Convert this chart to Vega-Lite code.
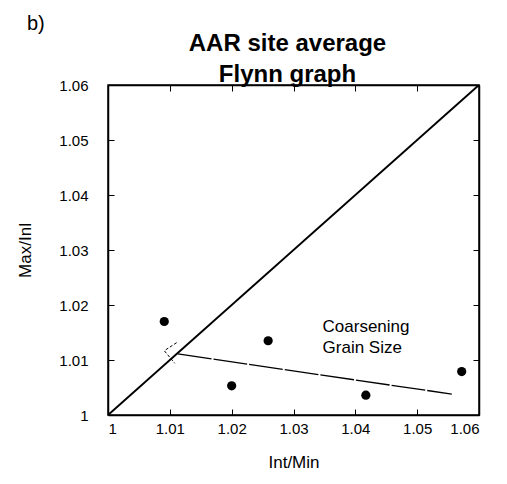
{
  "$schema": "https://vega.github.io/schema/vega-lite/v6.json",
  "width": 371,
  "height": 330,
  "autosize": {"type": "none"},
  "padding": {"left": 108, "top": 85, "right": 28, "bottom": 69},
  "background": "white",
  "config": {
    "font": "Liberation Sans",
    "view": {"stroke": "black", "strokeWidth": 1.5},
    "axis": {
      "grid": false,
      "domainColor": "black",
      "domainWidth": 1.5,
      "tickColor": "black",
      "tickWidth": 1,
      "labelColor": "black",
      "titleColor": "black",
      "labelFont": "Liberation Sans",
      "titleFont": "Liberation Sans",
      "labelFontSize": 15,
      "titleFontSize": 17,
      "titleFontWeight": "normal"
    }
  },
  "title": {
    "text": ["AAR site average", "Flynn graph"],
    "font": "Liberation Sans",
    "fontSize": 24,
    "fontWeight": "bold",
    "lineHeight": 31,
    "color": "black",
    "anchor": "middle",
    "offset": -73,
    "dx": -6
  },
  "datasets": {
    "sites": [
      {"intMin": 1.0091, "maxInl": 1.0170},
      {"intMin": 1.0200, "maxInl": 1.0053},
      {"intMin": 1.0259, "maxInl": 1.0135},
      {"intMin": 1.0417, "maxInl": 1.0036},
      {"intMin": 1.0572, "maxInl": 1.0079}
    ],
    "isotropy": [
      {"intMin": 1.0, "maxInl": 1.0},
      {"intMin": 1.06, "maxInl": 1.06}
    ],
    "trend": [
      {"intMin": 1.0113, "maxInl": 1.0111},
      {"intMin": 1.0556, "maxInl": 1.0038}
    ],
    "arrowhead": [
      {"step": 1, "intMin": 1.0111, "maxInl": 1.01315},
      {"step": 2, "intMin": 1.0091, "maxInl": 1.01169},
      {"step": 3, "intMin": 1.0108, "maxInl": 1.0094}
    ],
    "notes": [
      {"intMin": 1.0347, "maxInl": 1.01605, "label": "Coarsening"},
      {"intMin": 1.0347, "maxInl": 1.01218, "label": "Grain Size"}
    ],
    "panel": [
      {"intMin": 0.9869, "maxInl": 1.0711, "label": "b)"}
    ]
  },
  "resolve": {"axis": {"x": "independent", "y": "independent"}},
  "layer": [
    {
      "data": {"name": "isotropy"},
      "mark": {"type": "line", "color": "black", "strokeWidth": 2, "clip": true},
      "encoding": {
        "x": {
          "field": "intMin",
          "type": "quantitative",
          "scale": {"domain": [1, 1.06], "nice": false, "zero": false},
          "axis": {
            "title": "Int/Min",
            "values": [1, 1.01, 1.02, 1.03, 1.04, 1.05, 1.06],
            "format": "~g",
            "tickSize": -6,
            "labelPadding": 12,
            "titlePadding": 18
          }
        },
        "y": {
          "field": "maxInl",
          "type": "quantitative",
          "scale": {"domain": [1, 1.06], "nice": false, "zero": false},
          "axis": {
            "title": "Max/Inl",
            "values": [1, 1.01, 1.02, 1.03, 1.04, 1.05, 1.06],
            "format": "~g",
            "tickSize": -6,
            "labelPadding": 26,
            "titlePadding": 24
          }
        }
      }
    },
    {
      "data": {"name": "isotropy"},
      "mark": {"type": "line", "opacity": 0},
      "encoding": {
        "x": {
          "field": "intMin",
          "type": "quantitative",
          "axis": {
            "orient": "top",
            "values": [1, 1.01, 1.02, 1.03, 1.04, 1.05, 1.06],
            "labels": false,
            "title": null,
            "tickSize": -6
          }
        },
        "y": {
          "field": "maxInl",
          "type": "quantitative",
          "axis": {
            "orient": "right",
            "values": [1, 1.01, 1.02, 1.03, 1.04, 1.05, 1.06],
            "labels": false,
            "title": null,
            "tickSize": -6
          }
        }
      }
    },
    {
      "data": {"name": "trend"},
      "mark": {"type": "line", "color": "black", "strokeWidth": 1.3, "strokeDash": [34, 2]},
      "encoding": {
        "x": {"field": "intMin", "type": "quantitative", "axis": null},
        "y": {"field": "maxInl", "type": "quantitative", "axis": null}
      }
    },
    {
      "data": {"name": "arrowhead"},
      "mark": {"type": "line", "color": "black", "strokeWidth": 1, "strokeDash": [3, 2]},
      "encoding": {
        "x": {"field": "intMin", "type": "quantitative", "axis": null},
        "y": {"field": "maxInl", "type": "quantitative", "axis": null},
        "order": {"field": "step"}
      }
    },
    {
      "data": {"name": "sites"},
      "mark": {"type": "point", "filled": true, "color": "black", "opacity": 1, "size": 85},
      "encoding": {
        "x": {"field": "intMin", "type": "quantitative", "axis": null},
        "y": {"field": "maxInl", "type": "quantitative", "axis": null}
      }
    },
    {
      "data": {"name": "notes"},
      "mark": {"type": "text", "align": "left", "baseline": "middle", "fontSize": 17, "color": "black"},
      "encoding": {
        "x": {"field": "intMin", "type": "quantitative", "axis": null},
        "y": {"field": "maxInl", "type": "quantitative", "axis": null},
        "text": {"field": "label"}
      }
    },
    {
      "data": {"name": "panel"},
      "mark": {"type": "text", "align": "left", "baseline": "middle", "fontSize": 20, "color": "black"},
      "encoding": {
        "x": {"field": "intMin", "type": "quantitative", "axis": null},
        "y": {"field": "maxInl", "type": "quantitative", "axis": null},
        "text": {"field": "label"}
      }
    }
  ]
}
